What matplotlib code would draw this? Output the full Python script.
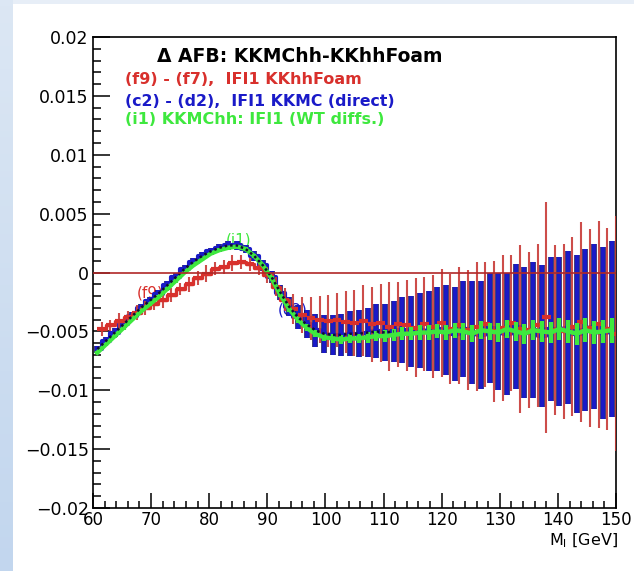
import matplotlib.pyplot as plt
import numpy as np
from matplotlib.colors import LinearSegmentedColormap
from matplotlib.patches import Rectangle

plt.rcParams["font.family"] = "DejaVu Sans"

# 60 bins of 1.5 GeV between 60 and 150 GeV
BIN_EDGES = np.arange(60.0, 150.01, 1.5)

# asymmetry differences, in units of 1e-3
# (c2)-(d2): KKMC direct, one value per bin centre
BLUE_VAL = [-6.5, -5.8, -5.1, -4.4, -3.7, -3.0, -2.4, -1.8, -1.1, -0.4,
            0.3, 0.9, 1.4, 1.8, 2.1, 2.3, 2.3, 2.0, 1.4, 0.6,
            -0.4, -1.7, -2.9, -3.8, -4.4, -4.9, -5.2, -5.3, -5.3, -5.2,
            -5.2, -5.1, -5.0, -5.1, -5.0, -4.9, -5.0, -4.9, -5.0, -4.8,
            -4.9, -5.2, -4.8, -5.1, -5.3, -4.7, -5.0, -5.2, -4.6, -5.1,
            -4.9, -5.4, -4.8, -5.0, -4.7, -5.2, -4.9, -4.6, -5.1, -4.8]
BLUE_ERR = [0.3, 0.3, 0.35, 0.3, 0.35, 0.3, 0.35, 0.3, 0.35, 0.35,
            0.3, 0.35, 0.35, 0.3, 0.35, 0.35, 0.4, 0.35, 0.4, 0.45,
            0.5, 0.6, 0.8, 1.0, 1.2, 1.4, 1.6, 1.7, 1.8, 1.9,
            2.0, 2.1, 2.3, 2.4, 2.6, 2.8, 3.0, 3.2, 3.4, 3.6,
            3.8, 4.0, 4.1, 4.4, 4.6, 4.7, 5.0, 5.2, 5.3, 5.6,
            5.8, 6.0, 6.1, 6.3, 6.5, 6.7, 6.9, 7.0, 7.3, 7.5]

# (f9)-(f7): KKhhFoam, one value per upper bin edge
RED_VAL = [-4.8, -4.5, -4.1, -3.8, -3.4, -3.0, -2.7, -2.3, -1.9, -1.4,
           -1.0, -0.5, -0.1, 0.3, 0.5, 0.8, 0.9, 0.7, 0.4, -0.2,
           -1.2, -2.3, -3.1, -3.6, -3.9, -4.0, -4.1, -4.0, -4.2, -4.3,
           -4.1, -4.4, -4.3, -4.6, -4.4, -4.5, -4.7, -4.4, -4.6, -4.3,
           -4.8, -4.5, -4.9, -4.6, -4.4, -5.0, -4.7, -4.3, -4.8, -4.9,
           -4.5, -3.8, -4.9, -5.0, -4.6, -4.2, -4.7, -4.4, -4.8, -5.2]
RED_ERR = [0.6, 0.5, 0.7, 0.55, 0.65, 0.6, 0.5, 0.7, 0.6, 0.55,
           0.65, 0.6, 0.7, 0.55, 0.6, 0.65, 0.6, 0.55, 0.6, 0.7,
           0.8, 1.0, 1.3, 1.5, 1.8, 2.0, 2.2, 2.3, 2.6, 2.8,
           3.0, 3.2, 3.3, 3.8, 3.6, 3.9, 4.2, 4.0, 4.4, 4.6,
           4.7, 5.0, 5.1, 5.5, 5.3, 6.0, 6.2, 5.8, 7.1, 6.6,
           6.9, 9.8, 7.2, 7.4, 7.6, 8.5, 8.4, 8.8, 8.6, 10.0]

# (i1): KKMChh from weight differences, one value per bin centre
GREEN_VAL = [-6.8, -6.1, -5.4, -4.7, -4.0, -3.3, -2.7, -2.1, -1.4, -0.7,
             0.0, 0.6, 1.1, 1.6, 1.9, 2.1, 2.2, 2.0, 1.4, 0.6,
             -0.5, -1.9, -3.1, -4.0, -4.7, -5.2, -5.5, -5.6, -5.7, -5.6,
             -5.6, -5.5, -5.4, -5.4, -5.3, -5.2, -5.2, -5.1, -5.1, -5.0,
             -5.1, -4.9, -5.0, -5.2, -4.9, -5.0, -5.1, -4.8, -5.0, -5.2,
             -4.9, -5.0, -5.1, -4.8, -5.0, -5.2, -4.9, -5.1, -5.0, -4.9]
GREEN_ERR = [0.15, 0.15, 0.15, 0.15, 0.15, 0.15, 0.15, 0.15, 0.15, 0.15,
             0.15, 0.15, 0.15, 0.15, 0.15, 0.15, 0.15, 0.15, 0.15, 0.15,
             0.2, 0.2, 0.25, 0.25, 0.3, 0.3, 0.3, 0.35, 0.35, 0.4,
             0.4, 0.45, 0.45, 0.5, 0.5, 0.55, 0.55, 0.6, 0.6, 0.6,
             0.65, 0.65, 0.7, 0.7, 0.75, 0.75, 0.8, 0.8, 0.8, 0.85,
             0.85, 0.9, 0.9, 0.9, 0.95, 0.95, 1.0, 1.0, 1.0, 1.05]

X_TICKS = [60, 70, 80, 90, 100, 110, 120, 130, 140, 150]
Y_TICKS = [-0.02, -0.015, -0.01, -0.005, 0, 0.005, 0.01, 0.015, 0.02]
Y_LABELS = ["\u22120.02", "\u22120.015", "\u22120.01", "\u22120.005", "0",
            "0.005", "0.01", "0.015", "0.02"]

RED = "#d8302c"
RED_BAR = "#c83a36"
BLUE = "#1a1ac8"
NAVY = "#0c0c5c"
GREEN = "#3ee83e"
W, H = 634, 571


def draw():
    fig = plt.figure(figsize=(W / 100, H / 100), dpi=100)
    fig.patch.set_facecolor("#e7eef7")
    fig.add_artist(Rectangle((13 / W, 0), 1, (H - 4) / H, transform=fig.transFigure,
                             facecolor="white", edgecolor="none", zorder=0))
    strip = fig.add_axes([0, 0, 13 / W, 1])
    strip.imshow(np.linspace(0, 1, 100)[:, None], aspect="auto",
                 cmap=LinearSegmentedColormap.from_list("strip", ["#dce7f4", "#c2d6ee"]))
    strip.axis("off")

    ax = fig.add_axes([93 / W, 63 / H, 523 / W, 471 / H])
    ax.set_facecolor("white")

    centres = (BIN_EDGES[:-1] + BIN_EDGES[1:]) / 2
    red_x = BIN_EDGES[1:]
    half = 0.75
    s = 1e-3
    b, be = np.array(BLUE_VAL) * s, np.array(BLUE_ERR) * s
    r, re = np.array(RED_VAL) * s, np.array(RED_ERR) * s
    g, ge = np.array(GREEN_VAL) * s, np.array(GREEN_ERR) * s

    # (c2)-(d2)
    ax.vlines(centres, b - be, b + be, color=NAVY, lw=4.0, zorder=2)
    ax.vlines(centres, b - be, b + be, color=BLUE, lw=2.8, zorder=2.1)
    ax.step(centres, b, where="mid", color=BLUE, lw=3, zorder=2.2)

    # (f9)-(f7)
    ax.vlines(red_x, r - re, r + re, color=RED_BAR, lw=1.5, alpha=0.9, zorder=3)
    ax.hlines(r, red_x - half, red_x + half, color=RED, lw=3.0, zorder=3)
    near = red_x < 96
    ax.step(red_x[near], r[near], where="mid", color=RED, lw=2.4, zorder=3)

    # (i1)
    ax.vlines(centres, g - ge, g + ge, color=GREEN, lw=3, zorder=4)
    ax.plot(centres, g, color=GREEN, lw=3.2, zorder=4)
    low = centres < 112
    ax.plot(centres[low], b[low], color="#101030", lw=1.8, ls=(0, (1, 1.2)), zorder=5)

    ax.axhline(0, color="#b02828", lw=1.2, zorder=6)

    ax.text(69.8, -0.0017, "(f9)", color=RED, fontsize=11, ha="center", va="center", zorder=1.5)
    ax.text(85.0, 0.0028, "(i1)", color=GREEN, fontsize=11, ha="center", va="center", zorder=1.5)
    ax.text(94.4, -0.0032, "(c2)", color=BLUE, fontsize=11, ha="center", va="center", zorder=1.5)

    ax.set_xlim(60, 150)
    ax.set_ylim(-0.02, 0.02)
    ax.set_xticks(X_TICKS)
    ax.set_xticks(np.arange(60, 151, 2), minor=True)
    ax.set_yticks(Y_TICKS)
    ax.set_yticklabels(Y_LABELS)
    ax.set_yticks(np.arange(-0.02, 0.0201, 0.001), minor=True)
    ax.tick_params(axis="y", which="major", direction="in", length=12, width=1.1, labelsize=12.5, pad=3)
    ax.tick_params(axis="y", which="minor", direction="in", length=6, width=1.1)
    ax.tick_params(axis="x", which="major", direction="in", length=11, width=1.1, labelsize=12, pad=2)
    ax.tick_params(axis="x", which="minor", direction="in", length=5, width=1.1)
    for sp in ax.spines.values():
        sp.set_linewidth(1.2)

    fig.text(618 / W, 1 - 541 / H, r"M$_{\mathrm{l}}$ [GeV]", fontsize=11.5, ha="right", va="center")

    fig.text(157 / W, 1 - 57 / H, "\u0394 AFB: KKMChh-KKhhFoam", fontsize=13.5,
             fontweight="bold", va="center")
    fig.text(125 / W, 1 - 80 / H, "(f9) - (f7),  IFI1 KKhhFoam", color=RED, fontsize=11.5,
             fontweight="bold", va="center")
    fig.text(125 / W, 1 - 101 / H, "(c2) - (d2),  IFI1 KKMC (direct)", color=BLUE, fontsize=11.3,
             fontweight="bold", va="center")
    fig.text(125 / W, 1 - 120 / H, "(i1) KKMChh: IFI1 (WT diffs.)", color=GREEN, fontsize=11.5,
             fontweight="bold", va="center")
    return fig


fig = draw()
fig.savefig("out.png", dpi=100)
